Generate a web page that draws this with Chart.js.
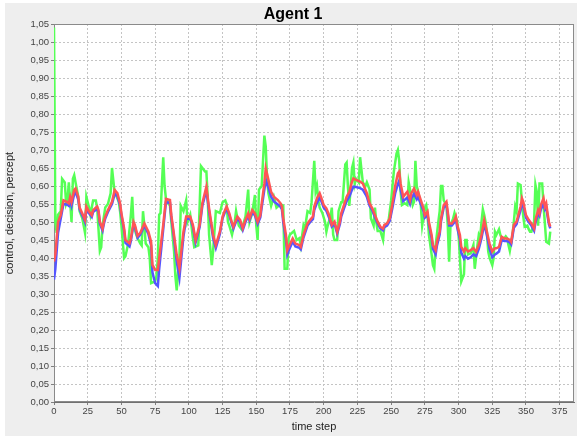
<!DOCTYPE html>
<html>
<head>
<meta charset="utf-8">
<script src="https://cdn.jsdelivr.net/npm/chart.js@4.4.1/dist/chart.umd.min.js"></script>
<style>
  html, body { margin: 0; padding: 0; background: #ffffff; }
  canvas { display: block; }
</style>
</head>
<body>
<canvas id="chart" width="577" height="436"></canvas>
<script>
// Tick labels of both axes
const xTickValues = [0, 25, 50, 75, 100, 125, 150, 175, 200, 225, 250, 275, 300, 325, 350, 375];
const yTickValues = [0, 0.05, 0.10, 0.15, 0.20, 0.25, 0.30, 0.35, 0.40, 0.45, 0.50, 0.55, 0.60,
                     0.65, 0.70, 0.75, 0.80, 0.85, 0.90, 0.95, 1.00, 1.05];

const chartTitle = 'Agent 1';

// Time steps at which control and decision are sampled
const steps = [0,1,3,5,7,10,11,12,13,15,16,18,19,22,23,24,26,28,29,32,33,34,36,37,38,40,43,45,47,49,
  50,52,53,56,57,59,60,62,64,67,70,72,73,75,77,78,81,83,86,87,88,89,91,93,96,98,101,103,105,108,
  110,113,115,118,120,123,125,127,128,130,131,133,136,138,140,142,144,145,147,149,151,153,154,156,157,159,
  161,163,166,168,169,170,172,173,174,177,179,182,183,185,188,190,192,193,195,197,198,200,202,204,206,208,
  210,212,213,215,217,219,221,222,224,227,229,231,232,234,236,238,240,242,244,245,247,249,251,253,255,256,
  257,259,261,262,264,265,267,269,270,272,274,275,277,278,280,281,283,284,286,287,289,291,292,293,295,297,
  298,299,301,302,304,305,307,309,311,313,315,317,319,321,323,325,327,328,330,332,334,336,338,339,341,343,
  344,346,347,348,350,352,354,356,357,359,360,361,363,364,365,366,367,368];

// control (red)
const control = [0.39,0.41,0.50,0.52,0.56,0.555,0.552,0.57,0.556,0.589,0.593,0.57,0.54,0.515,0.506,0.543,0.529,0.519,0.533,0.543,0.533,0.501,0.482,0.501,0.515,0.533,0.556,0.589,0.58,0.552,
  0.524,0.482,0.45,0.441,0.454,0.50,0.492,0.462,0.47,0.496,0.473,0.445,0.381,0.367,0.367,0.399,0.492,0.564,0.561,0.519,0.492,0.464,0.408,0.371,0.473,0.515,0.515,0.492,0.45,0.492,
  0.552,0.598,0.538,0.464,0.436,0.473,0.515,0.535,0.543,0.524,0.51,0.487,0.515,0.506,0.483,0.506,0.524,0.51,0.533,0.524,0.501,0.519,0.551,0.607,0.649,0.617,
  0.584,0.57,0.561,0.552,0.543,0.51,0.464,0.422,0.431,0.454,0.44,0.436,0.431,0.464,0.496,0.506,0.515,0.543,0.566,0.58,0.57,0.547,0.538,0.519,0.492,0.501,
  0.473,0.501,0.524,0.547,0.57,0.584,0.612,0.621,0.617,0.612,0.607,0.589,0.58,0.552,0.538,0.519,0.501,0.487,0.482,0.492,0.496,0.51,0.552,0.60,0.635,0.64,
  0.607,0.57,0.58,0.584,0.561,0.58,0.593,0.575,0.584,0.561,0.538,0.519,0.529,0.501,0.464,0.436,0.422,0.445,0.473,0.51,0.547,0.556,0.529,0.496,0.496,0.506,
  0.515,0.492,0.464,0.431,0.418,0.427,0.418,0.422,0.427,0.418,0.436,0.464,0.505,0.473,0.44,0.418,0.427,0.427,0.431,0.459,0.454,0.454,0.45,0.445,0.492,0.501,
  0.515,0.543,0.566,0.556,0.519,0.506,0.496,0.482,0.506,0.533,0.524,0.547,0.566,0.543,0.552,0.524,0.50,0.487];

// decision (blue)
const decision = [0.34,0.37,0.47,0.51,0.55,0.548,0.545,0.56,0.545,0.578,0.583,0.562,0.535,0.51,0.50,0.537,0.524,0.514,0.528,0.537,0.528,0.495,0.476,0.495,0.51,0.528,0.55,0.578,0.572,0.546,
  0.518,0.476,0.442,0.432,0.447,0.494,0.487,0.456,0.465,0.49,0.467,0.435,0.36,0.33,0.322,0.37,0.48,0.555,0.553,0.512,0.485,0.455,0.39,0.345,0.46,0.508,0.51,0.487,0.443,0.486,
  0.545,0.588,0.53,0.455,0.428,0.467,0.51,0.53,0.537,0.519,0.505,0.482,0.51,0.50,0.478,0.50,0.518,0.505,0.527,0.518,0.495,0.513,0.54,0.59,0.617,0.595,
  0.57,0.557,0.549,0.542,0.535,0.50,0.45,0.41,0.42,0.446,0.432,0.428,0.424,0.457,0.49,0.50,0.508,0.533,0.553,0.567,0.56,0.54,0.531,0.512,0.487,0.495,
  0.468,0.494,0.515,0.537,0.558,0.57,0.59,0.598,0.597,0.594,0.59,0.577,0.57,0.545,0.532,0.513,0.496,0.482,0.477,0.486,0.49,0.503,0.54,0.58,0.605,0.615,
  0.59,0.558,0.565,0.568,0.55,0.566,0.578,0.563,0.57,0.55,0.53,0.512,0.52,0.493,0.455,0.425,0.41,0.435,0.465,0.502,0.54,0.548,0.522,0.49,0.49,0.50,
  0.508,0.485,0.452,0.415,0.398,0.405,0.398,0.402,0.41,0.405,0.425,0.455,0.495,0.463,0.425,0.402,0.41,0.412,0.418,0.45,0.447,0.447,0.443,0.438,0.484,0.494,
  0.508,0.533,0.552,0.545,0.512,0.50,0.49,0.476,0.498,0.524,0.517,0.535,0.55,0.535,0.542,0.516,0.494,0.482];

// percept (green): [time step, value]
const percept = [[0,1.04],[1,0.50],[2,0.47],[3,0.52],[5,0.53],[6,0.62],[8,0.61],[9,0.55],[10,0.56],[11,0.61],[13,0.50],
  [14,0.62],[15,0.63],[16,0.61],[18,0.57],[19,0.53],[21,0.51],[22,0.49],[23,0.47],[24,0.57],[26,0.54],[27,0.52],[28,0.54],
  [29,0.56],[31,0.56],[32,0.54],[34,0.42],[35,0.43],[36,0.49],[38,0.54],[40,0.55],[42,0.58],[43,0.65],[45,0.58],[46,0.575],
  [48,0.556],[49,0.53],[50,0.49],[52,0.40],[53,0.405],[55,0.44],[57,0.52],[58,0.57],[59,0.49],[61,0.465],[62,0.455],[64,0.44],
  [65,0.435],[66,0.53],[67,0.49],[68,0.44],[70,0.43],[71,0.40],[72,0.33],[75,0.335],[76,0.35],[77,0.40],[78,0.52],[79,0.525],
  [81,0.68],[82,0.60],[83,0.565],[86,0.545],[87,0.50],[89,0.42],[90,0.35],[91,0.31],[92,0.36],[93,0.40],[94,0.545],[96,0.53],
  [97,0.545],[98,0.56],[99,0.50],[101,0.52],[103,0.455],[104,0.43],[107,0.435],[109,0.655],[112,0.64],[113,0.64],[114,0.565],
  [115,0.465],[117,0.38],[118,0.42],[120,0.53],[123,0.525],[125,0.555],[127,0.56],[128,0.55],[129,0.50],[130,0.49],[132,0.465],
  [134,0.50],[135,0.53],[137,0.49],[139,0.48],[140,0.49],[142,0.515],[144,0.59],[145,0.50],[147,0.525],[149,0.575],[150,0.49],
  [151,0.45],[152,0.59],[154,0.60],[155,0.67],[156,0.74],[157,0.71],[158,0.62],[159,0.58],[161,0.545],[163,0.57],[165,0.54],
  [168,0.55],[170,0.545],[171,0.37],[173,0.37],[174,0.455],[175,0.465],[178,0.475],[180,0.45],[182,0.455],[183,0.435],[185,0.49],
  [186,0.48],[188,0.53],[190,0.525],[191,0.555],[193,0.67],[194,0.585],[195,0.60],[196,0.56],[197,0.54],[199,0.525],[201,0.50],
  [202,0.473],[203,0.49],[205,0.515],[206,0.54],[207,0.465],[208,0.45],[210,0.45],[211,0.53],[213,0.555],[214,0.555],[216,0.66],
  [217,0.665],[218,0.595],[219,0.545],[221,0.65],[222,0.665],[223,0.605],[224,0.62],[226,0.61],[227,0.68],[229,0.61],[231,0.60],
  [232,0.61],[234,0.59],[235,0.51],[237,0.49],[238,0.54],[239,0.50],[240,0.475],[242,0.475],[244,0.45],[245,0.49],[248,0.50],
  [250,0.56],[252,0.64],[254,0.69],[255,0.70],[256,0.67],[257,0.585],[258,0.547],[260,0.552],[262,0.547],[263,0.61],[264,0.59],
  [266,0.547],[267,0.556],[268,0.67],[269,0.60],[270,0.585],[272,0.547],[273,0.49],[275,0.54],[276,0.547],[277,0.52],[278,0.465],
  [280,0.41],[281,0.38],[282,0.37],[283,0.435],[285,0.50],[286,0.53],[287,0.60],[288,0.60],[289,0.56],[291,0.547],[292,0.49],
  [293,0.39],[294,0.49],[296,0.51],[297,0.525],[299,0.50],[300,0.465],[301,0.40],[302,0.335],[304,0.355],[305,0.45],[306,0.45],
  [307,0.41],[309,0.413],[311,0.436],[312,0.37],[314,0.436],[315,0.464],[316,0.455],[317,0.50],[318,0.535],[319,0.52],[320,0.50],
  [321,0.473],[322,0.418],[323,0.40],[325,0.38],[326,0.40],[327,0.473],[328,0.464],[330,0.48],[331,0.464],[332,0.455],[333,0.45],
  [335,0.46],[336,0.455],[337,0.436],[338,0.42],[340,0.465],[341,0.50],[342,0.543],[343,0.53],[344,0.607],[346,0.603],[347,0.556],
  [348,0.515],[349,0.487],[351,0.49],[352,0.48],[353,0.473],[354,0.473],[356,0.50],[357,0.603],[358,0.584],[359,0.49],[360,0.607],
  [362,0.607],[363,0.547],[364,0.496],[365,0.445],[367,0.44],[368,0.473]];

const FONT = '"Liberation Sans", Arial, sans-serif';

// Grey panel on a thin white margin, white plot area with a grey outline, bold title
const plotFrame = {
  id: 'plotFrame',
  beforeDraw(chart) {
    const { ctx, chartArea: a, width, height } = chart;
    ctx.save();
    ctx.fillStyle = '#ffffff';
    ctx.fillRect(0, 0, width, height);
    ctx.fillStyle = '#eeeeee';
    ctx.fillRect(5, 3, width - 5, height - 3);
    ctx.fillStyle = '#ffffff';
    ctx.fillRect(a.left, a.top, a.right - a.left, a.bottom - a.top);
    ctx.restore();
  },
  beforeDatasetsDraw(chart) {
    const { ctx, chartArea: a } = chart;
    ctx.save();
    ctx.strokeStyle = '#8a8a8a';
    ctx.lineWidth = 1;
    ctx.strokeRect(Math.round(a.left) + 0.5, Math.round(a.top) + 0.5,
                   Math.round(a.right - a.left) - 1, Math.round(a.bottom - a.top) - 1);
    ctx.restore();
  },
  afterDraw(chart) {
    const { ctx } = chart;
    ctx.save();
    ctx.fillStyle = '#000000';
    ctx.font = 'bold 16px ' + FONT;
    ctx.textAlign = 'center';
    ctx.textBaseline = 'alphabetic';
    ctx.fillText(chartTitle, 293, 19);
    ctx.restore();
  }
};

const line = (label, color, pts, order) => ({
  label, data: pts, borderColor: color, backgroundColor: color,
  borderWidth: 2.5, pointRadius: 0, tension: 0, fill: false, order
});

new Chart(document.getElementById('chart'), {
  type: 'line',
  data: {
    datasets: [
      line('control', '#ff5555', steps.map((t, i) => ({ x: t, y: control[i] })), 0),
      line('decision', '#5555ff', steps.map((t, i) => ({ x: t, y: decision[i] })), 1),
      line('percept', '#55ff55', percept.map(([t, v]) => ({ x: t, y: v })), 2)
    ]
  },
  options: {
    responsive: false,
    animation: false,
    devicePixelRatio: 1,
    layout: { padding: { left: 0, right: 3, top: 24, bottom: 0 } },
    plugins: {
      legend: { display: false },
      tooltip: { enabled: false },
      title: { display: false }
    },
    scales: {
      x: {
        type: 'linear', min: 0, max: 385.6,
        afterBuildTicks: s => { s.ticks = xTickValues.map(v => ({ value: v })); },
        afterFit: s => { s.height = 34; },
        ticks: { color: '#444444', font: { family: FONT, size: 9.5 }, padding: 1,
                 maxRotation: 0, autoSkip: false, callback: v => String(v) },
        grid: { color: '#c4c4c4', tickColor: '#808080', tickLength: 3, lineWidth: 1 },
        border: { color: '#707070', dash: [2, 2] },
        title: { display: true, text: 'time step', color: '#222222',
                 font: { family: FONT, size: 11 }, padding: { top: 2, bottom: 2.5 } }
      },
      y: {
        min: 0, max: 1.05,
        afterBuildTicks: s => { s.ticks = yTickValues.map(v => ({ value: v })); },
        afterFit: s => { s.width = 54; },
        ticks: { color: '#444444', font: { family: FONT, size: 9.5 }, padding: 2,
                 autoSkip: false, callback: v => v.toFixed(2).replace('.', ',') },
        grid: { color: '#c4c4c4', tickColor: '#808080', tickLength: 3, lineWidth: 1 },
        border: { color: '#707070', dash: [2, 2] },
        title: { display: true, text: 'control, decision, percept', color: '#222222',
                 font: { family: FONT, size: 11 }, padding: { top: 3.5, bottom: 0 } }
      }
    }
  },
  plugins: [plotFrame]
});
</script>
</body>
</html>
